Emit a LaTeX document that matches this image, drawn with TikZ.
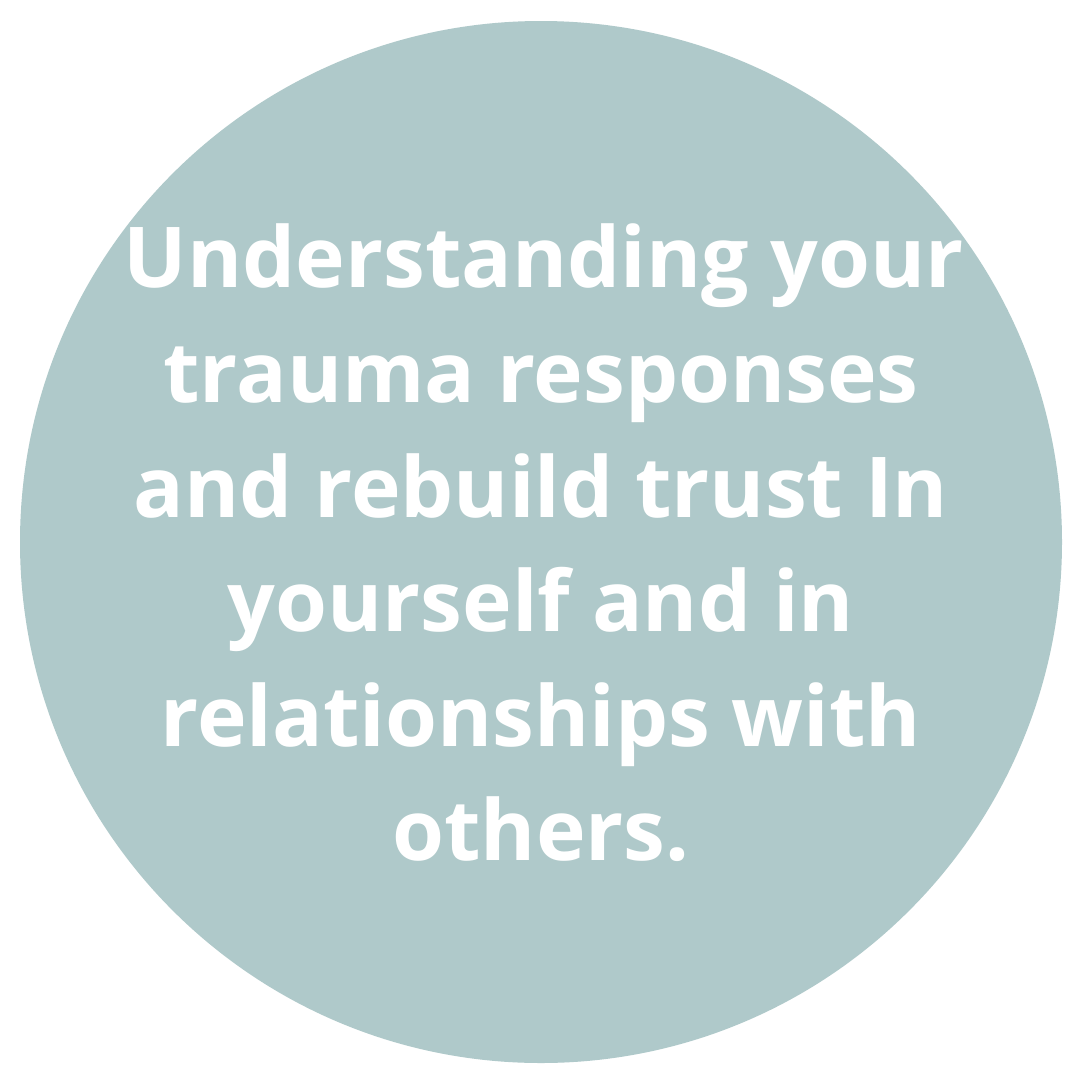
\documentclass[tikz,border=0pt]{standalone}
\usepackage{fontspec}
\setmainfont{Open Sans}
\definecolor{disc}{HTML}{AFC9CA}
\tikzset{ln/.style={text=white,font=\bfseries\fontsize{84}{100}\selectfont,anchor=base,inner sep=0pt}}
\begin{document}
\begin{tikzpicture}[x=1pt,y=-1pt]
\useasboundingbox (0,0) rectangle (1080,1080);
\fill[white] (0,0) rectangle (1080,1080);
\node[circle,fill=disc,minimum size=1042pt,inner sep=0pt] (c) at (541,542) {};
\node[ln] (l1) at (544,287) {Understanding your};
\node[ln] (l2) at (541,402) {trauma responses};
\node[ln] (l3) at (541,517) {and rebuild trust In};
\node[ln] (l4) at (541,631) {yourself and in};
\node[ln] (l5) at (541,746) {relationships with};
\node[ln] (l6) at (541,860) {others.};
\end{tikzpicture}
\end{document}
